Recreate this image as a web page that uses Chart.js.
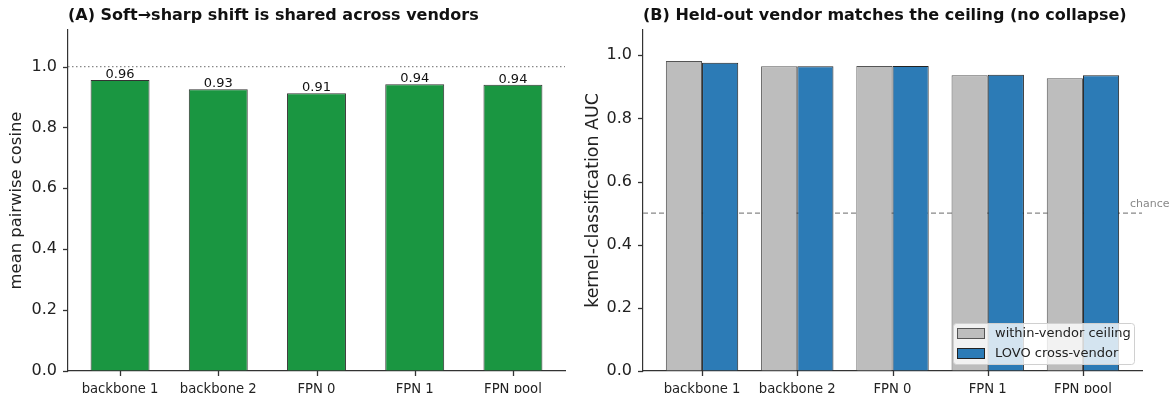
<!DOCTYPE html>
<html>
<head>
<meta charset="utf-8">
<script src="https://cdn.jsdelivr.net/npm/chart.js@4.4.1/dist/chart.umd.min.js"></script>
<style>
  html, body { margin: 0; padding: 0; background: #fff; }
  body { width: 1173px; height: 393px; position: relative; overflow: hidden; }
  canvas { position: absolute; top: 0; }
  #left { left: 0; }
  #right { left: 580px; }
</style>
</head>
<body>
<canvas id="left" width="580" height="393"></canvas>
<canvas id="right" width="593" height="393"></canvas>
<script>
const categories = ["backbone 1", "backbone 2", "FPN 0", "FPN 1", "FPN pool"];
const cosineValues = [0.956, 0.925, 0.912, 0.942, 0.940];
const ceilingValues = [0.982, 0.965, 0.966, 0.937, 0.927];
const lovoValues = [0.976, 0.965, 0.966, 0.938, 0.937];
const yTicks = [0, 0.2, 0.4, 0.6, 0.8, 1.0];

const FONT = "'DejaVu Sans', sans-serif";
const AXIS = "#333";
const TICK_LEN = 5;

// matplotlib-ish axis helpers (tick marks are drawn by the tickMarks plugin)
function xAxis(min, max) {
  return {
    type: "linear",
    min: min,
    max: max,
    offset: false,
    grid: { offset: false, drawOnChartArea: false, drawTicks: true, tickLength: TICK_LEN, tickColor: "rgba(0,0,0,0)" },
    border: { color: AXIS, width: 1.2 },
    afterBuildTicks: (s) => { s.ticks = categories.map((c, i) => ({ value: i })); },
    afterFit: (s) => { s.height = 22; },
    ticks: {
      color: "#222",
      font: { family: FONT, size: 13.2 },
      padding: 6,
      maxRotation: 0,
      autoSkip: false,
      callback: (v) => categories[v],
    },
  };
}

function yAxis(max, title, titleSize, width, titlePad) {
  return {
    min: 0,
    max: max,
    grid: { drawOnChartArea: false, drawTicks: true, tickLength: TICK_LEN, tickColor: "rgba(0,0,0,0)" },
    border: { color: AXIS, width: 1.2 },
    afterBuildTicks: (s) => { s.ticks = yTicks.map((v) => ({ value: v })); },
    afterFit: (s) => { s.width = width; },
    ticks: {
      color: "#222",
      font: { family: FONT, size: 16 },
      padding: 6,
      callback: (v) => v.toFixed(1),
    },
    title: {
      display: true,
      text: title,
      color: "#222",
      font: { family: FONT, size: titleSize },
      padding: { top: titlePad, bottom: 0 },
    },
  };
}

const tickMarks = {
  id: "tickMarks",
  afterDraw(chart) {
    const ctx = chart.ctx;
    const xs = chart.scales.x;
    const ys = chart.scales.y;
    const area = chart.chartArea;
    ctx.save();
    ctx.setLineDash([]);
    ctx.strokeStyle = AXIS;
    ctx.lineWidth = 1.3;
    for (let i = 0; i < categories.length; i++) {
      const px = Math.round(xs.getPixelForValue(i)) + 0.5;
      ctx.beginPath();
      ctx.moveTo(px, area.bottom);
      ctx.lineTo(px, area.bottom + TICK_LEN);
      ctx.stroke();
    }
    yTicks.forEach((v) => {
      const py = Math.round(ys.getPixelForValue(v)) + 0.5;
      ctx.beginPath();
      ctx.moveTo(area.left, py);
      ctx.lineTo(area.left - TICK_LEN, py);
      ctx.stroke();
    });
    ctx.restore();
  },
};

const panelTitle = {
  id: "panelTitle",
  afterDraw(chart, args, opts) {
    const ctx = chart.ctx;
    ctx.save();
    ctx.font = "bold 16px " + FONT;
    ctx.fillStyle = "#111";
    ctx.textBaseline = "middle";
    ctx.textAlign = "left";
    ctx.fillText(opts.text, chart.chartArea.left, 16);
    ctx.restore();
  },
};

const refLine = {
  id: "refLine",
  beforeDatasetsDraw(chart, args, opts) {
    const ctx = chart.ctx;
    const y = chart.scales.y.getPixelForValue(opts.value);
    const { left, right } = chart.chartArea;
    ctx.save();
    ctx.strokeStyle = "#888";
    ctx.lineWidth = opts.width;
    ctx.setLineDash(opts.dash);
    ctx.beginPath();
    ctx.moveTo(left, y);
    ctx.lineTo(right, y);
    ctx.stroke();
    if (opts.label) {
      ctx.setLineDash([]);
      ctx.fillStyle = "#888";
      ctx.font = "11px " + FONT;
      ctx.textAlign = "left";
      ctx.textBaseline = "bottom";
      ctx.fillText(opts.label, right - 12, y - 3);
    }
    ctx.restore();
  },
};

const barLabels = {
  id: "barLabels",
  afterDatasetsDraw(chart) {
    const ctx = chart.ctx;
    const meta = chart.getDatasetMeta(0);
    ctx.save();
    ctx.font = "13px " + FONT;
    ctx.fillStyle = "#111";
    ctx.textAlign = "center";
    ctx.textBaseline = "alphabetic";
    meta.data.forEach((bar, i) => {
      ctx.fillText(cosineValues[i].toFixed(2), bar.x, bar.y - 2);
    });
    ctx.restore();
  },
};

const boxLegend = {
  id: "boxLegend",
  afterDraw(chart) {
    const ctx = chart.ctx;
    const { right, bottom } = chart.chartArea;
    const w = 181, h = 41;
    const x0 = right - 8 - w, y0 = bottom - 7 - h;
    ctx.save();
    ctx.fillStyle = "rgba(255,255,255,0.8)";
    ctx.strokeStyle = "#d0d0d0";
    ctx.lineWidth = 1;
    ctx.beginPath();
    ctx.roundRect(x0 + 0.5, y0 + 0.5, w, h, 3);
    ctx.fill();
    ctx.stroke();
    chart.data.datasets.forEach((ds, i) => {
      const cy = y0 + 10 + i * 20;
      ctx.fillStyle = ds.backgroundColor;
      ctx.strokeStyle = ds.borderColor;
      ctx.lineWidth = 1;
      ctx.fillRect(x0 + 4.5, cy - 4.5, 27, 10);
      ctx.strokeRect(x0 + 4.5, cy - 4.5, 27, 10);
      ctx.fillStyle = "#222";
      ctx.font = "13px " + FONT;
      ctx.textAlign = "left";
      ctx.textBaseline = "middle";
      ctx.fillText(ds.label, x0 + 42, cy + 1);
    });
    ctx.restore();
  },
};

const common = {
  responsive: false,
  animation: false,
  devicePixelRatio: 1,
};

new Chart(document.getElementById("left").getContext("2d"), {
  type: "bar",
  data: {
    datasets: [
      {
        label: "mean pairwise cosine",
        data: cosineValues.map((v, i) => ({ x: i, y: v })),
        backgroundColor: "#1a9641",
        borderColor: "#333",
        borderWidth: 1,
        barPercentage: 0.6,
        categoryPercentage: 1,
      },
    ],
  },
  options: {
    ...common,
    layout: { padding: { top: 30, right: 15, left: 0, bottom: 0 } },
    scales: {
      x: xAxis(-0.53, 4.53),
      y: yAxis(1.12, "mean pairwise cosine", 16.4, 68, 7),
    },
    plugins: {
      legend: { display: false },
      tooltip: { enabled: false },
      panelTitle: { text: "(A) Soft\u2192sharp shift is shared across vendors" },
      refLine: { value: 1.0, dash: [1.5, 2.5], width: 1.2 },
    },
  },
  plugins: [panelTitle, refLine, barLabels, tickMarks],
});

new Chart(document.getElementById("right").getContext("2d"), {
  type: "bar",
  data: {
    datasets: [
      {
        label: "within-vendor ceiling",
        data: ceilingValues.map((v, i) => ({ x: i, y: v })),
        backgroundColor: "#bdbdbd",
        borderColor: "#555",
        borderWidth: 1,
        barPercentage: 1,
        categoryPercentage: 0.76,
      },
      {
        label: "LOVO cross-vendor",
        data: lovoValues.map((v, i) => ({ x: i, y: v })),
        backgroundColor: "#2c7bb6",
        borderColor: "#222",
        borderWidth: 1,
        barPercentage: 1,
        categoryPercentage: 0.76,
      },
    ],
  },
  options: {
    ...common,
    layout: { padding: { top: 30, right: 31, left: 0, bottom: 0 } },
    scales: {
      x: xAxis(-0.62, 4.62),
      y: yAxis(1.08, "kernel-classification AUC", 17.4, 63, 3),
    },
    plugins: {
      legend: { display: false },
      tooltip: { enabled: false },
      panelTitle: { text: "(B) Held-out vendor matches the ceiling (no collapse)" },
      refLine: { value: 0.5, dash: [5, 3], width: 1.2, label: "chance" },
    },
  },
  plugins: [panelTitle, refLine, boxLegend, tickMarks],
});
</script>
</body>
</html>
